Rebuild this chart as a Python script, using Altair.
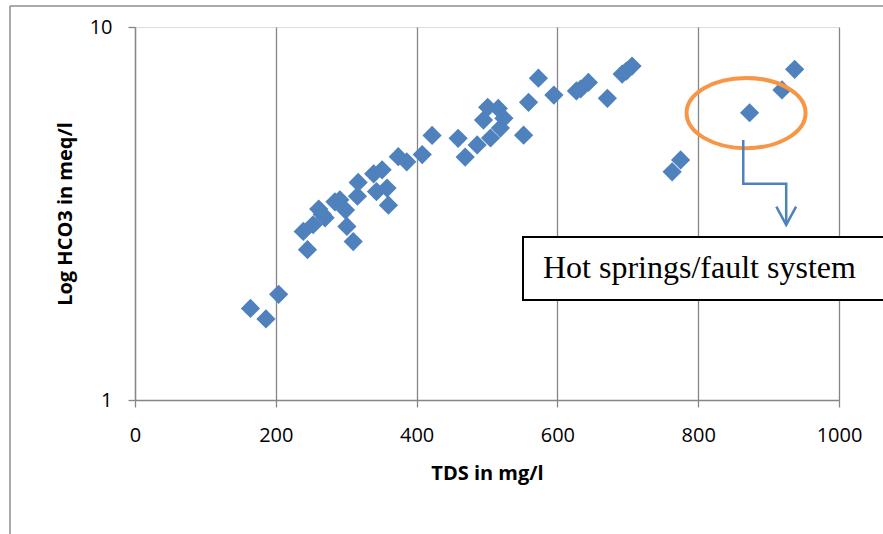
import altair as alt
import pandas as pd

# ---- data ----
tds = [164, 186, 204, 239, 245, 261, 270, 253, 266, 284, 291, 299, 301, 310, 317, 316,
       339, 351, 343, 358, 360, 374, 386, 408, 422, 459, 469, 486, 501, 516, 495, 524,
       505, 519, 552, 559, 573, 595, 627, 633, 644, 671, 692, 706, 698, 775, 763, 873,
       919, 937]
hco3 = [1.76, 1.65, 1.92, 2.83, 2.53, 3.25, 3.08, 2.95, 3.15, 3.40, 3.44, 3.23, 2.92, 2.66, 3.83, 3.52,
        4.04, 4.14, 3.62, 3.70, 3.33, 4.49, 4.35, 4.55, 5.12, 5.03, 4.48, 4.83, 6.09, 6.05, 5.63, 5.69,
        5.04, 5.36, 5.13, 6.28, 7.29, 6.57, 6.74, 6.82, 7.10, 6.44, 7.48, 7.86, 7.62, 4.40, 4.09, 5.89,
        6.78, 7.70]

x_ticks = [0, 200, 400, 600, 800, 1000]
y_ticks = [1, 10]

# annotation anchors (in data units)
ellipse_x = [868]
ellipse_y = [5.88]
arrow_x = [864, 864, 925, 925]
arrow_y = [4.98, 3.80, 3.80, 2.95]
head_x = [911, 925, 939]
head_y = [3.30, 2.95, 3.30]
box_label = ["Hot springs/fault system"]

W, H = 704, 373
GRAY = "#868686"
BLUE = "#4F81BD"

df = pd.DataFrame({"TDS": tds, "HCO3": hco3})
x_scale = alt.Scale(domain=[0, 1000], nice=False, zero=False)
y_scale = alt.Scale(type="log", domain=[1, 10], nice=False)

points = alt.Chart(df).mark_point(
    shape="diamond", filled=True, size=370, color=BLUE, opacity=1
).encode(
    x=alt.X("TDS:Q", scale=x_scale, axis=alt.Axis(
        title="TDS in mg/l", values=x_ticks, grid=True, gridColor=GRAY, gridWidth=1.3,
        gridOpacity=1, domainColor=GRAY, domainWidth=1.3, tickColor=GRAY, tickSize=7,
        tickWidth=1.3, labelPadding=18, labelFontSize=20, labelColor="#000000",
        labelFont="Open Sans", titleFont="Open Sans", titleFontSize=20, titleFontWeight="bold",
        titleColor="#000000", titlePadding=18, labelFlush=False, format="d")),
    y=alt.Y("HCO3:Q", scale=y_scale, axis=alt.Axis(
        title="Log HCO3 in meq/l", values=y_ticks, grid=False, domainColor=GRAY, domainWidth=1.3,
        tickColor=GRAY, tickSize=7, tickWidth=1.3, labelPadding=16, labelFontSize=20,
        labelColor="#000000", labelFont="Open Sans", titleFont="Open Sans", titleFontSize=20,
        titleFontWeight="bold", titleColor="#000000", titlePadding=14, format="~g")),
)

ell_df = pd.DataFrame({"TDS": ellipse_x, "HCO3": ellipse_y})
ellipse_path = ("M-1,0 C-1,-0.326 -0.552,-0.59 0,-0.59 C0.552,-0.59 1,-0.326 1,0 "
                "C1,0.326 0.552,0.59 0,0.59 C-0.552,0.59 -1,0.326 -1,0 Z")
ellipse = alt.Chart(ell_df).mark_point(
    shape=ellipse_path, size=119 ** 2, filled=False, color="#F79646", strokeWidth=4, opacity=1
).encode(x=alt.X("TDS:Q", scale=x_scale), y=alt.Y("HCO3:Q", scale=y_scale))

arr_df = pd.DataFrame({"TDS": arrow_x, "HCO3": arrow_y, "o": list(range(len(arrow_x)))})
arrow = alt.Chart(arr_df).mark_line(color=BLUE, strokeWidth=2.5).encode(
    x=alt.X("TDS:Q", scale=x_scale), y=alt.Y("HCO3:Q", scale=y_scale), order="o:Q")

head_df = pd.DataFrame({"TDS": head_x, "HCO3": head_y, "o": list(range(len(head_x)))})
head = alt.Chart(head_df).mark_line(color=BLUE, strokeWidth=2.5).encode(
    x=alt.X("TDS:Q", scale=x_scale), y=alt.Y("HCO3:Q", scale=y_scale), order="o:Q")

lab_df = pd.DataFrame({"label": box_label})
box = alt.Chart(lab_df).mark_rect(fill="white", stroke="#000000", strokeWidth=2).encode(
    x=alt.value(388), x2=alt.value(820), y=alt.value(210), y2=alt.value(273))
box_text = alt.Chart(lab_df).mark_text(
    font="Liberation Serif", fontSize=32, align="left", baseline="middle", color="#000000"
).encode(x=alt.value(408), y=alt.value(241), text="label:N")

frame_v = alt.Chart(lab_df).mark_rule(color="#8c8c8c", strokeWidth=1.5).encode(
    x=alt.value(-125), y=alt.value(-21), y2=alt.value(520))
frame_h = alt.Chart(lab_df).mark_rule(color="#8c8c8c", strokeWidth=1.5).encode(
    x=alt.value(-125), x2=alt.value(800), y=alt.value(-21))

chart = alt.layer(points, ellipse, arrow, head, box, box_text, frame_v, frame_h).properties(
    width=W, height=H,
    autosize=alt.AutoSizeParams(type="none"),
    padding={"left": 135, "top": 27, "right": 44, "bottom": 134},
).configure_view(stroke=None).configure(background="white")

chart.save("out.html", embed_options={"renderer": "svg", "actions": False})
